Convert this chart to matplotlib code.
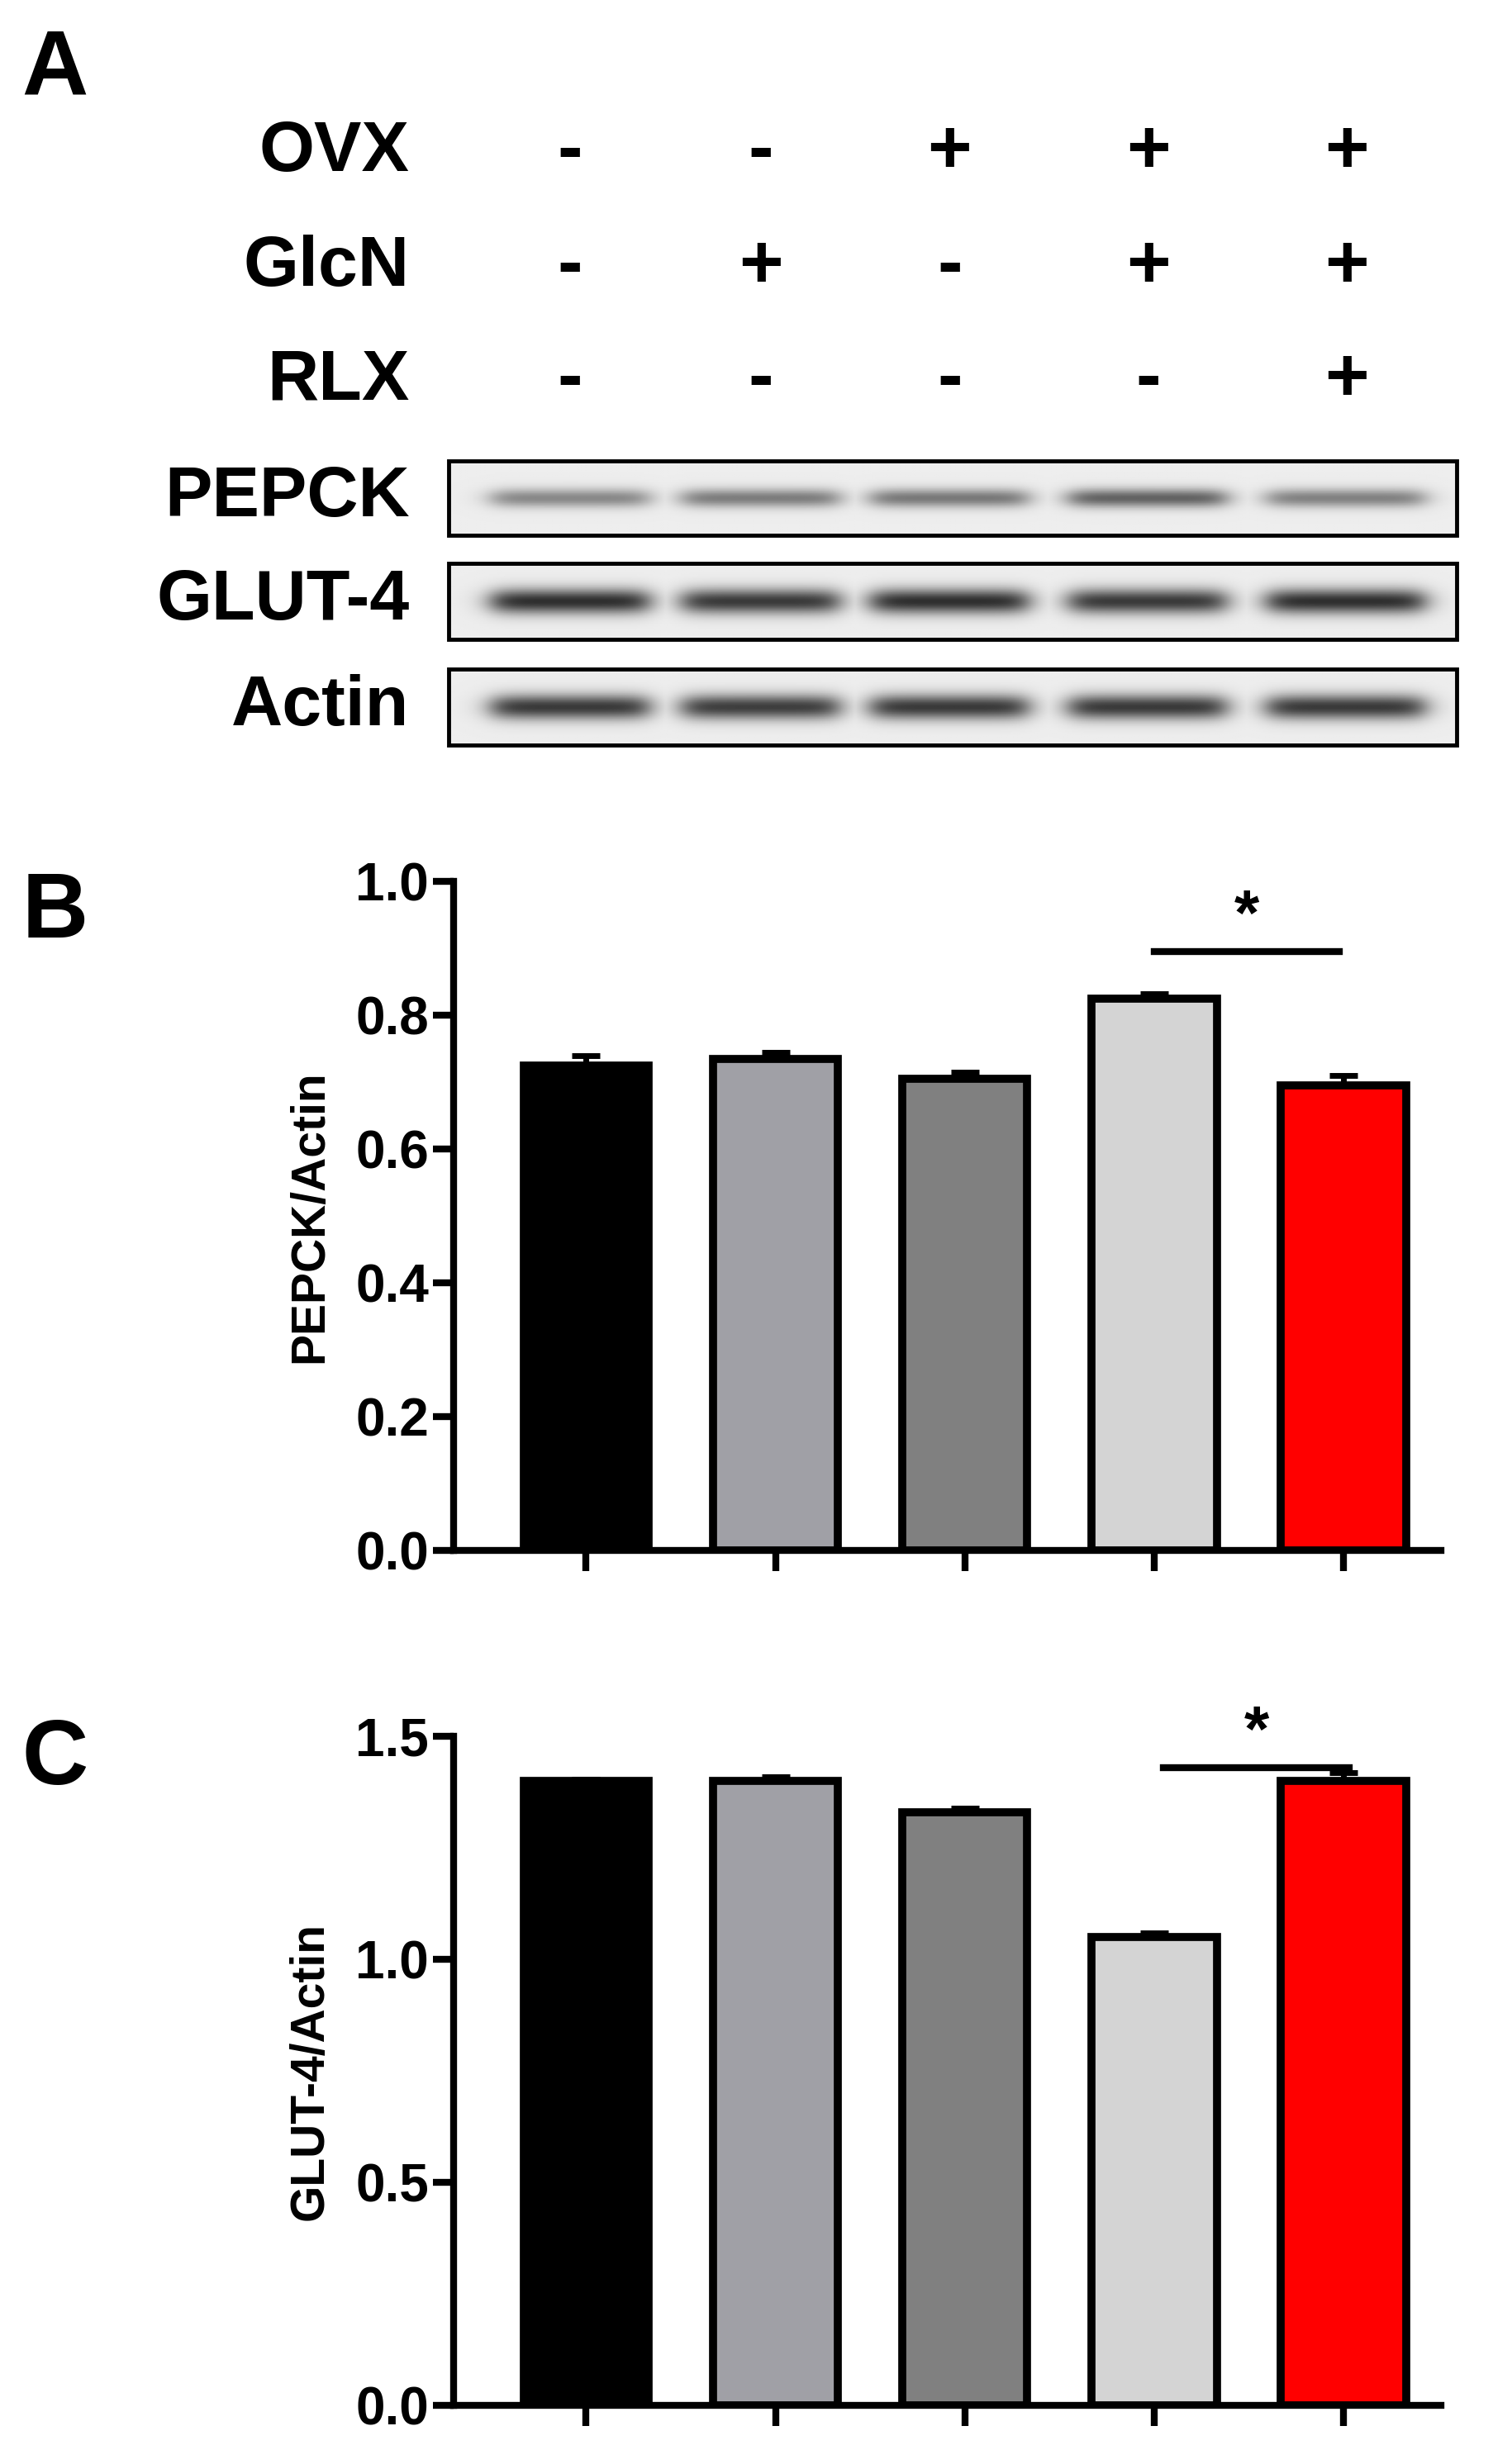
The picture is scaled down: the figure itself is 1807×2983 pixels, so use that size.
import numpy as np
import matplotlib
matplotlib.use("Agg")
import matplotlib.pyplot as plt

plt.rcParams['font.family'] = ['Liberation Sans', 'DejaVu Sans']
plt.rcParams['font.weight'] = 'bold'

# ---- data ----
row_labels = ["OVX", "GlcN", "RLX"]
treat = [["-", "-", "+", "+", "+"],
         ["-", "+", "-", "+", "+"],
         ["-", "-", "-", "-", "+"]]
blot_labels = ["PEPCK", "GLUT-4", "Actin"]
band_darkness = [[0.45, 0.50, 0.52, 0.62, 0.48],
                 [0.85, 0.80, 0.85, 0.80, 0.85],
                 [0.80, 0.78, 0.80, 0.80, 0.80]]
pepck = [0.725, 0.735, 0.705, 0.825, 0.695]
pepck_err = [0.015, 0.010, 0.010, 0.008, 0.015]
glut4 = [1.40, 1.40, 1.33, 1.05, 1.40]
glut4_err = [0.005, 0.010, 0.010, 0.010, 0.020]
colors = ["#000000", "#a0a0a6", "#808080", "#d4d4d4", "#ff0000"]

W, H = 948, 1565
fig = plt.figure(figsize=(18.07, 29.83), dpi=100)
ov = fig.add_axes([0, 0, 1, 1])
ov.set_xlim(0, W); ov.set_ylim(H, 0); ov.axis('off')

colx = [362, 483, 603, 729, 855]
rowy = [97, 170, 242]
ov.text(35, 45, "A", fontsize=80, ha='center', va='center', fontweight='bold')
ov.text(35, 580, "B", fontsize=80, ha='center', va='center', fontweight='bold')
ov.text(35, 1118, "C", fontsize=80, ha='center', va='center', fontweight='bold')
for r, lab in enumerate(row_labels):
    ov.text(260, rowy[r], lab, fontsize=62, ha='right', va='center', fontweight='bold')
    for c, s in enumerate(treat[r]):
        ov.text(colx[c], rowy[r], s, fontsize=66, ha='center', va='center', fontweight='bold')

strips = [(293, 340), (358, 406), (425, 473)]
xx = np.linspace(285, 925, 640)
for i, (y0, y1) in enumerate(strips):
    ov.text(260, (y0 + y1) / 2, blot_labels[i], fontsize=62, ha='right', va='center', fontweight='bold')
    yy = np.linspace(y0, y1, 60)
    X, Y = np.meshgrid(xx, yy)
    img = np.full(X.shape, 0.0)
    yc = (y0 + y1) / 2
    for c, cx in enumerate(colx):
        prof_x = 1 / (1 + np.exp((np.abs(X - cx) - 50) / 5))
        prof_y = np.exp(-((Y - yc) / (6 if i == 0 else 8)) ** 2)
        img = np.maximum(img, band_darkness[i][c] * prof_x * prof_y)
    ov.imshow(0.93 - 0.88 * img, cmap='gray', vmin=0, vmax=1, extent=[285, 925, y1, y0],
              aspect='auto', zorder=1)
    ov.add_patch(plt.Rectangle((285, y0), 640, y1 - y0, fill=False, lw=3.5, ec='black', zorder=2))
ov.set_xlim(0, W); ov.set_ylim(H, 0)

def panel(bottom, top, vals, errs, ymax, ticks, ylabel, sig_y, sig_x):
    ax = fig.add_axes([288 / W, 1 - bottom / H, (915 - 288) / W, (bottom - top) / H])
    x = np.arange(5)
    ax.bar(x, vals, width=0.66, color=colors, edgecolor='black', linewidth=7, zorder=2)
    ax.errorbar(x, np.array(vals), yerr=[np.zeros(5), errs], fmt='none', ecolor='black',
                elinewidth=5, capsize=12, capthick=5, zorder=1)
    ax.set_xlim(-0.7, 4.515); ax.set_ylim(0, ymax)
    ax.set_yticks(ticks)
    ax.set_yticklabels([f"{t:.1f}" for t in ticks], fontsize=46, fontweight='bold')
    ax.set_xticks(x); ax.set_xticklabels([])
    for s in ['top', 'right']:
        ax.spines[s].set_visible(False)
    for s in ['left', 'bottom']:
        ax.spines[s].set_linewidth(6)
    ax.tick_params(width=6, length=18)
    ax.set_ylabel(ylabel, fontsize=41, fontweight='bold', labelpad=20)
    ax.plot(sig_x, [sig_y, sig_y], color='black', lw=6, clip_on=False)
    ax.text(np.mean(sig_x), sig_y + ymax * 0.005, "*", fontsize=56, ha='center', va='bottom',
            fontweight='bold')
    return ax

panel(985, 560, pepck, pepck_err, 1.0, [0.0, 0.2, 0.4, 0.6, 0.8, 1.0], "PEPCK/Actin", 0.895, [3.0, 3.98])
panel(1528, 1103, glut4, glut4_err, 1.5, [0.0, 0.5, 1.0, 1.5], "GLUT-4/Actin", 1.43, [3.05, 4.03])

fig.savefig("out.png", dpi=100)
